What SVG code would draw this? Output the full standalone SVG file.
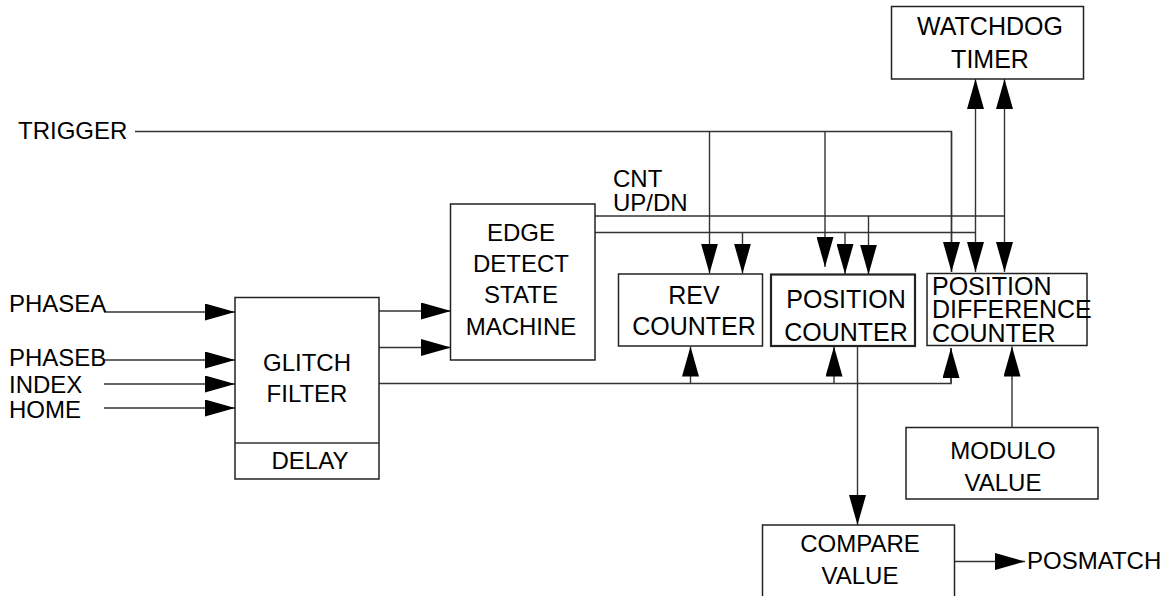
<svg xmlns="http://www.w3.org/2000/svg" width="1167" height="596" viewBox="0 0 1167 596">
<style>
.box{fill:#fff;stroke:#222;stroke-width:1.5}
.thick{stroke-width:2.2}
.ln{fill:none;stroke:#333;stroke-width:1.4}
.t{font-family:"Liberation Sans",Arial,sans-serif;font-size:24px;fill:#000}
.c{text-anchor:middle}
.b{font-size:25px}
</style>
<defs>
<marker id="ah" viewBox="0 0 30 17" markerWidth="30" markerHeight="17" refX="30" refY="8.5" orient="auto-start-reverse" markerUnits="userSpaceOnUse">
<path d="M0,0 L30,8.5 L0,17 Z" fill="#000"/>
</marker>
</defs>
<rect width="1167" height="596" fill="#fff"/>

<g id="connectors">
<!-- inputs to glitch filter -->
<path class="ln" d="M104,312 H235" marker-end="url(#ah)"/>
<path class="ln" d="M104,360 H235" marker-end="url(#ah)"/>
<path class="ln" d="M104,384 H235" marker-end="url(#ah)"/>
<path class="ln" d="M104,408 H235" marker-end="url(#ah)"/>
<!-- glitch to edge detect -->
<path class="ln" d="M379,311 H451" marker-end="url(#ah)"/>
<path class="ln" d="M379,347.5 H451" marker-end="url(#ah)"/>
<!-- index/home bus -->
<path class="ln" d="M379,383.5 H951 V348"/>
<path class="ln" d="M951,383.5 V348" marker-end="url(#ah)"/>
<path class="ln" d="M690.5,383.5 V346.5" marker-end="url(#ah)"/>
<path class="ln" d="M834,383.5 V346.5" marker-end="url(#ah)"/>
<!-- trigger -->
<path class="ln" d="M135,131.5 H951.5 V272"/>
<path class="ln" d="M951.5,131.5 V272" marker-end="url(#ah)"/>
<path class="ln" d="M709.5,131.5 V273.5" marker-end="url(#ah)"/>
<path class="ln" d="M825,131.5 V267" marker-end="url(#ah)"/>
<!-- CNT / UP-DN lines -->
<path class="ln" d="M595,216 H1004.5"/>
<path class="ln" d="M595,232.5 H975.5"/>
<path class="ln" d="M742.5,232.5 V273.5" marker-end="url(#ah)"/>
<path class="ln" d="M845,232.5 V274" marker-end="url(#ah)"/>
<path class="ln" d="M868.5,216 V274.5" marker-end="url(#ah)"/>
<!-- watchdog bidirectional -->
<path class="ln" d="M975.5,79 V272" marker-start="url(#ah)" marker-end="url(#ah)"/>
<path class="ln" d="M1004.5,79 V272" marker-start="url(#ah)" marker-end="url(#ah)"/>
<!-- modulo to diff counter -->
<path class="ln" d="M1012,427.5 V346.5" marker-end="url(#ah)"/>
<!-- position counter to compare -->
<path class="ln" d="M857.5,346 V525" marker-end="url(#ah)"/>
<!-- posmatch -->
<path class="ln" d="M954,561.5 H1025" marker-end="url(#ah)"/>
</g>

<g id="glitch-filter">
<rect class="box" x="235" y="297.5" width="144" height="181.5"/>
<line class="ln" x1="235" y1="443" x2="379" y2="443"/>
<text class="t c" x="307" y="371">GLITCH</text>
<text class="t c" x="307" y="402">FILTER</text>
<text class="t c" x="310" y="469">DELAY</text>
</g>

<g id="edge-detect">
<rect class="box" x="450.5" y="204" width="144.5" height="156"/>
<text class="t c" x="521" y="241">EDGE</text>
<text class="t c" x="521" y="272">DETECT</text>
<text class="t c" x="521" y="303">STATE</text>
<text class="t c" x="521" y="335">MACHINE</text>
</g>

<g id="rev-counter">
<rect class="box" x="618.5" y="274" width="144" height="72"/>
<text class="t c b" x="694" y="304">REV</text>
<text class="t c b" x="694" y="335">COUNTER</text>
</g>

<g id="position-counter">
<rect class="box thick" x="771" y="274.5" width="144" height="71.5"/>
<text class="t c b" x="846" y="308">POSITION</text>
<text class="t c b" x="846" y="341">COUNTER</text>
</g>

<g id="position-difference-counter">
<rect class="box" x="927" y="273.5" width="160" height="72"/>
<text class="t b" x="932" y="295">POSITION</text>
<text class="t b" x="932" y="318">DIFFERENCE</text>
<text class="t b" x="932" y="342">COUNTER</text>
</g>

<g id="watchdog-timer">
<rect class="box" x="891.5" y="6.5" width="192" height="72.5"/>
<text class="t c b" x="990" y="35">WATCHDOG</text>
<text class="t c b" x="990" y="68">TIMER</text>
</g>

<g id="modulo-value">
<rect class="box" x="906" y="427.5" width="192" height="71.5"/>
<text class="t c" x="1003" y="459">MODULO</text>
<text class="t c" x="1003" y="491">VALUE</text>
</g>

<g id="compare-value">
<rect class="box" x="762.5" y="525" width="192" height="80"/>
<text class="t c" x="860" y="552">COMPARE</text>
<text class="t c" x="860" y="584">VALUE</text>
</g>

<g id="labels">
<text class="t" x="18" y="139">TRIGGER</text>
<text class="t" x="9" y="312">PHASEA</text>
<text class="t" x="9" y="366">PHASEB</text>
<text class="t" x="9" y="393">INDEX</text>
<text class="t" x="9" y="418">HOME</text>
<text class="t" x="613" y="187">CNT</text>
<text class="t" x="613" y="211">UP/DN</text>
<text class="t" x="1027" y="569">POSMATCH</text>
</g>
</svg>
